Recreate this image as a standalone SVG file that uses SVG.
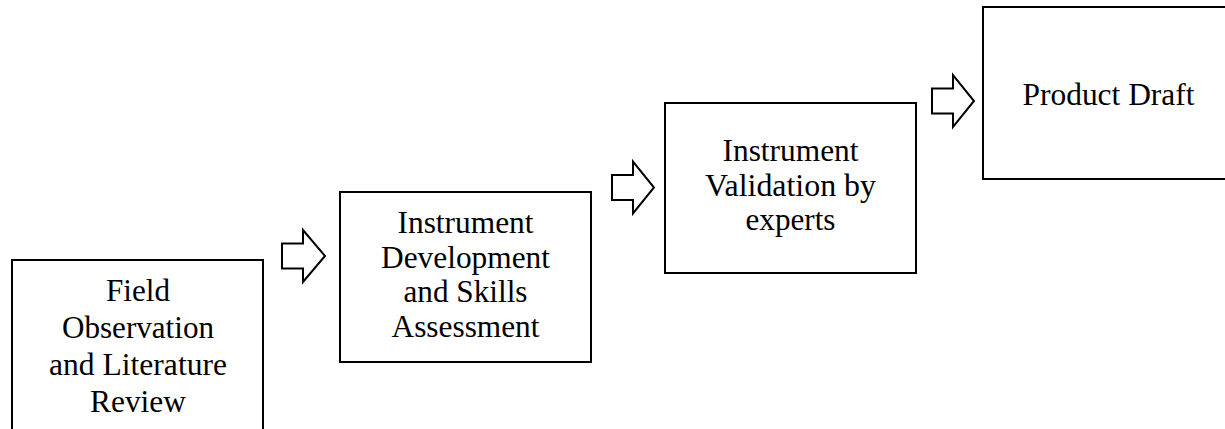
<svg xmlns="http://www.w3.org/2000/svg" width="1225" height="429" viewBox="0 0 1225 429">
<style>
.box{fill:#fff;stroke:#000;stroke-width:2}
.arr{fill:#fff;stroke:#000;stroke-width:2;stroke-linejoin:miter}
.t{font-size:31px;fill:#000;text-anchor:middle}
</style>
<rect width="1225" height="429" fill="#fff"/>
<g id="connectors">
<polygon class="arr" points="282,243.5 303,243.5 303,230 325,256 303,282 303,268.5 282,268.5"/>
<polygon class="arr" points="612,175 633,175 633,161.5 654,187.5 633,213.5 633,200 612,200"/>
<polygon class="arr" points="932,88.5 953,88.5 953,75 974,101 953,127 953,113.5 932,113.5"/>
</g>
<g font-family="Liberation Serif, serif">
<g id="node1">
<rect class="box" x="12" y="260" width="251" height="200"/>
<text class="t" x="138" y="301" textLength="64" lengthAdjust="spacingAndGlyphs">Field</text>
<text class="t" x="138" y="338" textLength="152" lengthAdjust="spacingAndGlyphs">Observation</text>
<text class="t" x="138" y="375" textLength="178" lengthAdjust="spacingAndGlyphs">and Literature</text>
<text class="t" x="138" y="412" textLength="96" lengthAdjust="spacingAndGlyphs">Review</text>
</g>
<g id="node2">
<rect class="box" x="340" y="192" width="251" height="170"/>
<text class="t" x="465.5" y="233" textLength="136" lengthAdjust="spacingAndGlyphs">Instrument</text>
<text class="t" x="465.5" y="267.5" textLength="169" lengthAdjust="spacingAndGlyphs">Development</text>
<text class="t" x="465.5" y="302" textLength="124" lengthAdjust="spacingAndGlyphs">and Skills</text>
<text class="t" x="465.5" y="336.5" textLength="148" lengthAdjust="spacingAndGlyphs">Assessment</text>
</g>
<g id="node3">
<rect class="box" x="665" y="103" width="251" height="170"/>
<text class="t" x="790.5" y="161" textLength="136" lengthAdjust="spacingAndGlyphs">Instrument</text>
<text class="t" x="790.5" y="196" textLength="171" lengthAdjust="spacingAndGlyphs">Validation by</text>
<text class="t" x="790.5" y="230" textLength="90" lengthAdjust="spacingAndGlyphs">experts</text>
</g>
<g id="node4">
<rect class="box" x="983" y="7" width="260" height="172"/>
<text class="t" x="1108.5" y="105" textLength="172" lengthAdjust="spacingAndGlyphs">Product Draft</text>
</g>
</g>
</svg>
